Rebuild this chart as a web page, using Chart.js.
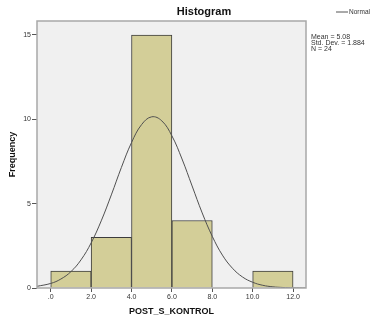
<!DOCTYPE html>
<html>
<head>
<meta charset="utf-8">
<script src="https://cdn.jsdelivr.net/npm/chart.js@4"></script>
<style>
  body { margin: 0; background: #fff; }
  #wrap { width: 374px; height: 325px; }
</style>
</head>
<body>
<div id="wrap"><canvas id="hist" width="374" height="325"></canvas></div>
<script>
// histogram bins (centres) and counts
const binCenters = [1, 3, 5, 7, 9, 11];
const binCounts = [1, 3, 15, 4, 0, 1];

// normal curve
const curveX = [-0.68, 0, 0.5, 1, 1.5, 2, 2.5, 3, 3.5, 4, 4.5, 5, 5.5, 6, 6.5, 7, 7.5, 8, 8.5, 9, 9.5, 10, 10.5, 11, 11.5, 12, 12.64];
const curveY = [0.1, 0.27, 0.53, 0.97, 1.67, 2.67, 3.98, 5.52, 7.15, 8.62, 9.69, 10.15, 9.91, 9.02, 7.65, 6.05, 4.45, 3.06, 1.95, 1.17, 0.65, 0.34, 0.16, 0.07, 0.03, 0.01, 0.0];

const xTicks = [0, 2, 4, 6, 8, 10, 12];
const xTickLabels = ['.0', '2.0', '4.0', '6.0', '8.0', '10.0', '12.0'];
const yTicks = [0, 5, 10, 15];

const statsLines = ['Mean = 5.08', 'Std. Dev. = 1.884', 'N = 24'];

const FONT = '"Liberation Sans", Arial, sans-serif';

const frame = {
    id: 'frame',
    beforeDatasetsDraw(chart) {
        const { ctx, chartArea: a } = chart;
        ctx.save();
        ctx.fillStyle = '#f0f0f0';
        ctx.fillRect(a.left, a.top, a.right - a.left, a.bottom - a.top);
        ctx.restore();
    },
    afterDraw(chart) {
        const { ctx, chartArea: a } = chart;
        ctx.save();
        ctx.strokeStyle = '#a8a8a8';
        ctx.lineWidth = 1.5;
        ctx.strokeRect(a.left, a.top, a.right - a.left, a.bottom - a.top);

        ctx.fillStyle = '#111';
        ctx.font = 'bold 11px ' + FONT;
        ctx.textAlign = 'center';
        ctx.textBaseline = 'middle';
        ctx.fillText('Histogram', 204, 12);

        ctx.font = 'bold 9px ' + FONT;
        ctx.fillText('POST_S_KONTROL', (a.left + a.right) / 2, 312);
        ctx.save();
        ctx.translate(13, (a.top + a.bottom) / 2);
        ctx.rotate(-Math.PI / 2);
        ctx.fillText('Frequency', 0, 0);
        ctx.restore();

        // legend
        ctx.strokeStyle = '#555';
        ctx.lineWidth = 1;
        ctx.beginPath();
        ctx.moveTo(336, 12);
        ctx.lineTo(348, 12);
        ctx.stroke();
        ctx.fillStyle = '#333';
        ctx.font = '6.5px ' + FONT;
        ctx.textAlign = 'left';
        ctx.fillText('Normal', 349, 12);

        ctx.font = '7px ' + FONT;
        statsLines.forEach((t, i) => ctx.fillText(t, 311, 37.5 + i * 5.8));
        ctx.restore();
    }
};

new Chart(document.getElementById('hist'), {
    type: 'bar',
    data: {
        datasets: [
            {
                type: 'line',
                data: curveX.map((x, i) => ({ x: x, y: curveY[i] })),
                borderColor: '#505050',
                borderWidth: 1,
                pointRadius: 0,
                tension: 0.4,
                fill: false,
                order: 0
            },
            {
                data: binCenters.map((x, i) => ({ x: x, y: binCounts[i] })),
                backgroundColor: '#d3ce98',
                borderColor: '#3c3c3c',
                borderWidth: 1,
                barPercentage: 1,
                categoryPercentage: 1,
                grouped: false,
                order: 1
            }
        ]
    },
    options: {
        responsive: false,
        animation: false,
        layout: { padding: { top: 21, right: 68, left: 0, bottom: 0 } },
        plugins: { legend: { display: false }, tooltip: { enabled: false }, title: { display: false } },
        scales: {
            x: {
                type: 'linear',
                offset: false,
                min: -0.68,
                max: 12.64,
                afterBuildTicks(s) { s.ticks = xTicks.map(v => ({ value: v })); },
                afterFit(s) { s.height = 37; },
                grid: { display: true, offset: false, drawOnChartArea: false, drawTicks: true, tickLength: 4, color: '#555' },
                border: { display: false },
                ticks: {
                    padding: 1,
                    color: '#333',
                    font: { family: FONT, size: 7 },
                    maxRotation: 0,
                    callback: (v) => xTickLabels[xTicks.indexOf(v)]
                }
            },
            y: {
                type: 'linear',
                min: 0,
                max: 15.83,
                afterBuildTicks(s) { s.ticks = yTicks.map(v => ({ value: v })); },
                afterFit(s) { s.width = 37; },
                grid: { display: true, drawOnChartArea: false, drawTicks: true, tickLength: 5, color: '#555' },
                border: { display: false },
                ticks: {
                    padding: 1,
                    color: '#333',
                    font: { family: FONT, size: 7 }
                }
            }
        }
    },
    plugins: [frame]
});
</script>
</body>
</html>
